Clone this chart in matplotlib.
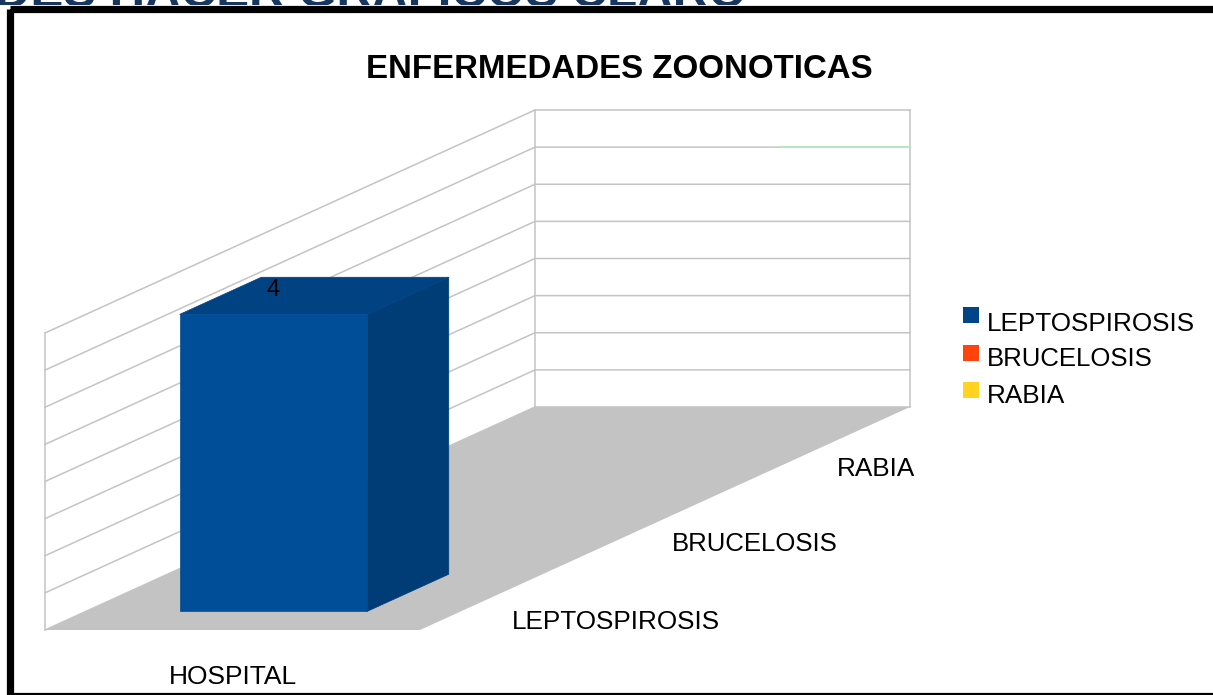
"""Oblique 3D-style column chart drawn on a pixel-sized canvas"""

import matplotlib
matplotlib.use('Agg')
import matplotlib.pyplot as plt
from matplotlib.patches import Polygon, Rectangle

plt.rcParams['font.family'] = ['Liberation Sans', 'DejaVu Sans']

W, H = 1213, 695

# Chart data
title = 'ENFERMEDADES ZOONOTICAS'
banner = 'DES HACER GRAFICOS CLARO'
categories = ['HOSPITAL']
series_names = ['LEPTOSPIROSIS', 'BRUCELOSIS', 'RABIA']
series_values = [4, None, None]
series_colors = ['#004586', '#FF420E', '#FFD320']
y_max = 4
y_step = 0.5

# Oblique projection set-up (pixels)
ORIGIN = (45, 630)
X_VEC = (375, 0)
DEPTH_VEC = (490, -223)
HEIGHT_PX = 297

GRID = '#c4c4c6'
FLOOR = '#c3c3c3'


def project(x, d, v):
    """x in category slots, d in series slots, v in data units -> pixel"""
    fx = x / len(categories)
    fd = d / len(series_names)
    px = ORIGIN[0] + fx * X_VEC[0] + fd * DEPTH_VEC[0]
    py = ORIGIN[1] + fx * X_VEC[1] + fd * DEPTH_VEC[1] - v / y_max * HEIGHT_PX
    return px, py


fig = plt.figure(figsize=(W / 100, H / 100), dpi=100)
ax = fig.add_axes([0, 0, 1, 1])
ax.set_xlim(0, W)
ax.set_ylim(H, 0)
ax.axis('off')

# Cut-off heading above the frame
ax.text(-5, 7, banner, fontsize=35.5, fontweight='bold', color='#17375e',
        ha='left', va='baseline', clip_on=True, zorder=1)
ax.add_patch(Rectangle((0, 5), W, H, facecolor='white', edgecolor='none', zorder=2))

# Frame
ax.add_patch(Rectangle((9.5, 8.5), W + 20, 687, facecolor='none', edgecolor='black',
                       linewidth=5.2, zorder=9))

# Floor
nd = len(series_names)
nx = len(categories)
floor = [project(0, 0, 0), project(nx, 0, 0), project(nx, nd, 0), project(0, nd, 0)]
ax.add_patch(Polygon(floor, closed=True, facecolor=FLOOR, edgecolor='none', zorder=3))

# Walls and gridlines
n_grid = int(y_max / y_step)
for i in range(n_grid + 1):
    v = i * y_step
    p0, p1, p2 = project(0, 0, v), project(0, nd, v), project(nx, nd, v)
    ax.plot([p0[0], p1[0], p2[0]], [p0[1], p1[1], p2[1]], color=GRID, lw=1.1, zorder=4)
for d, x in [(0, 0), (nd, 0), (nd, nx)]:
    a, b = project(x, d, 0), project(x, d, y_max)
    ax.plot([a[0], b[0]], [a[1], b[1]], color=GRID, lw=1.1, zorder=4)

# Faint green tint on the seventh gridline, right part
a, b = project(0.65, nd, 3.5), project(nx, nd, 3.5)
ax.plot([a[0], b[0]], [a[1], b[1]], color='#b5e8bd', lw=1.3, zorder=4)

# Columns
for d, (val, col) in enumerate(zip(series_values, series_colors)):
    if val is None:
        continue
    x0, x1 = 0.25, 0.75
    d0, d1 = d + 0.25, d + 0.75
    front = [project(x0, d0, 0), project(x1, d0, 0), project(x1, d0, val), project(x0, d0, val)]
    side = [project(x1, d0, 0), project(x1, d1, 0), project(x1, d1, val), project(x1, d0, val)]
    top = [project(x0, d0, val), project(x1, d0, val), project(x1, d1, val), project(x0, d1, val)]
    ax.add_patch(Polygon(side, closed=True, facecolor='#003d76', edgecolor='#003d76', lw=0.5, zorder=5))
    ax.add_patch(Polygon(top, closed=True, facecolor='#004282', edgecolor='#004282', lw=0.5, zorder=5))
    ax.add_patch(Polygon(front, closed=True, facecolor='#004e98', edgecolor='#004e98', lw=0.5, zorder=5))
    lx, ly = project(0.5, d + 0.5, val)
    ax.text(lx - 41, ly - 6, str(val), fontsize=17, color='black',
            ha='center', va='center', zorder=6)

# Title
ax.text(619.5, 70, title, fontsize=23.8, fontweight='bold', color='black',
        ha='center', va='center', zorder=6)

# Axis labels
ax.text(232.5, 677, categories[0], fontsize=19, ha='center', va='center', zorder=6)
label_pos = [(616, 622), (755, 544), (876, 469)]
label_size = [18.8, 18.5, 18.8]
for name, (lx, ly), fs in zip(series_names, label_pos, label_size):
    ax.text(lx, ly, name, fontsize=fs, ha='center', va='center', zorder=6)

# Legend
legend_y = [315, 353, 390]
legend_text_y = [324, 359, 396]
for name, col, ky, ty, fs in zip(series_names, series_colors, legend_y, legend_text_y, label_size):
    ax.add_patch(Rectangle((963, ky - 8), 16, 16, facecolor=col, edgecolor='none', zorder=6))
    ax.text(987, ty, name, fontsize=fs, ha='left', va='center', zorder=6)

fig.savefig('out.png', dpi=100)
